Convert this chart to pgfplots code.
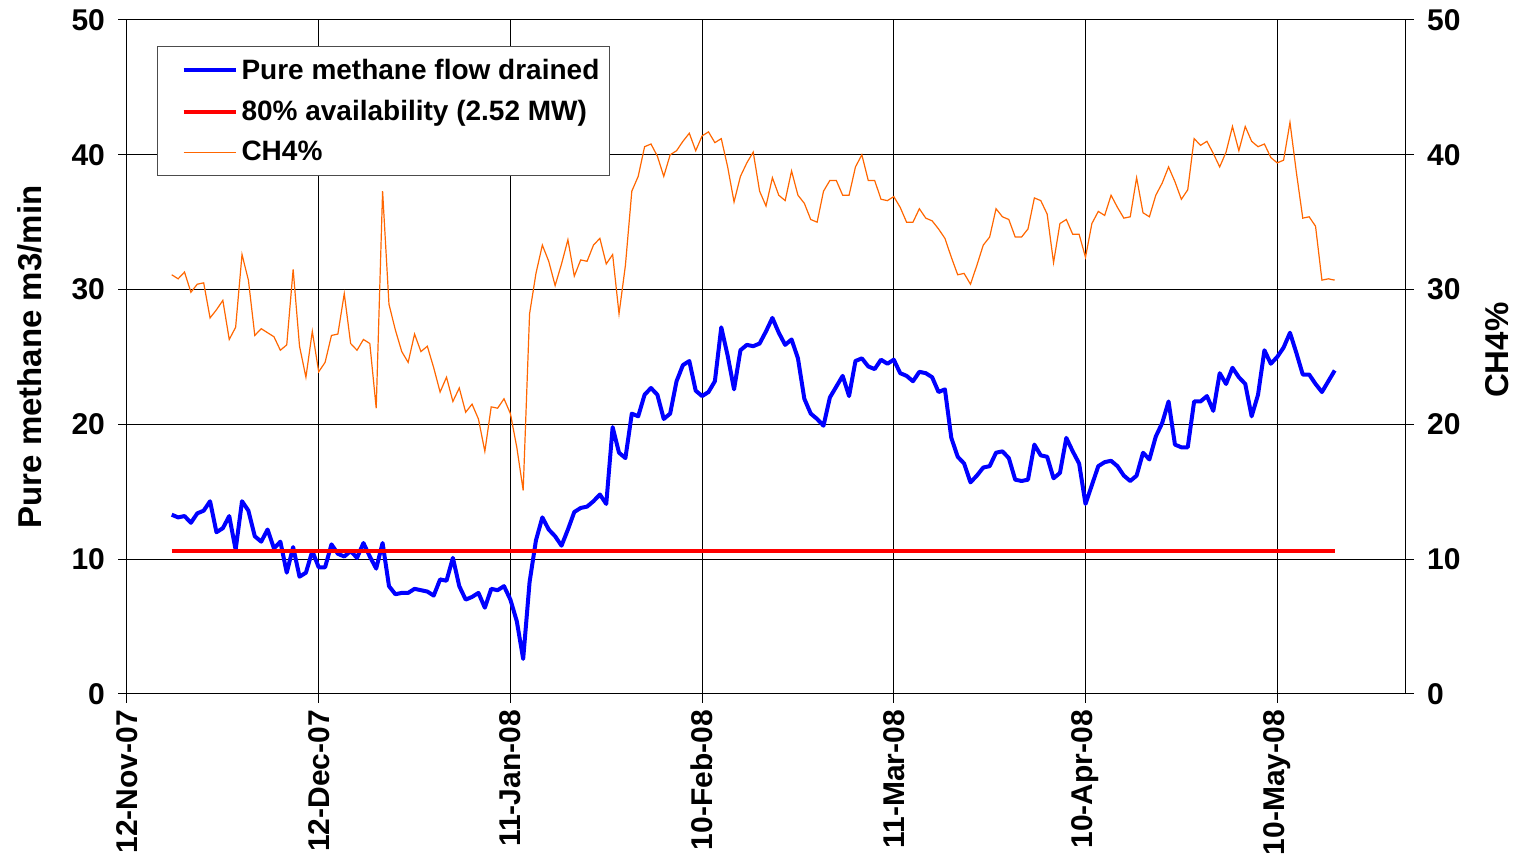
\documentclass[border=0pt]{standalone}
\usepackage{fontspec}
\setmainfont{Liberation Sans}
\usepackage{pgfplots}
\usepackage{pgfplotstable}
\pgfplotsset{compat=1.18}
\definecolor{ch4col}{RGB}{255,102,0}
\definecolor{flowcol}{RGB}{0,0,255}
\definecolor{availcol}{RGB}{255,0,0}

\pgfplotstableread{
day flow ch4
7 13.3 31.1
8 13.1 30.8
9 13.2 31.3
10 12.7 29.8
11 13.4 30.4
12 13.6 30.5
13 14.3 27.9
14 12.0 28.5
15 12.3 29.2
16 13.2 26.3
17 10.7 27.2
18 14.3 32.6
19 13.6 30.7
20 11.7 26.6
21 11.3 27.1
22 12.2 26.8
23 10.8 26.5
24 11.3 25.5
25 9.0 25.9
26 10.9 31.5
27 8.7 25.8
28 9.0 23.5
29 10.6 26.9
30 9.4 23.9
31 9.4 24.6
32 11.1 26.6
33 10.4 26.7
34 10.2 29.7
35 10.6 26.0
36 10.1 25.5
37 11.2 26.3
38 10.2 26.0
39 9.3 21.2
40 11.2 37.3
41 8.0 28.9
42 7.4 27.0
43 7.5 25.4
44 7.5 24.6
45 7.8 26.7
46 7.7 25.4
47 7.6 25.8
48 7.3 24.2
49 8.5 22.4
50 8.4 23.5
51 10.1 21.7
52 8.0 22.7
53 7.0 20.9
54 7.2 21.5
55 7.5 20.4
56 6.4 18.0
57 7.8 21.3
58 7.7 21.2
59 8.0 21.9
60 7.0 20.8
61 5.4 18.3
62 2.6 15.1
63 8.3 28.2
64 11.4 31.2
65 13.1 33.3
66 12.2 32.1
67 11.7 30.3
68 11.0 31.9
69 12.2 33.7
70 13.5 31.0
71 13.8 32.2
72 13.9 32.1
73 14.3 33.3
74 14.8 33.8
75 14.1 31.9
76 19.8 32.6
77 17.9 28.2
78 17.5 31.8
79 20.8 37.3
80 20.6 38.4
81 22.2 40.6
82 22.7 40.8
83 22.2 39.9
84 20.4 38.4
85 20.8 40.0
86 23.2 40.3
87 24.4 41.0
88 24.7 41.6
89 22.5 40.3
90 22.1 41.4
91 22.4 41.7
92 23.2 40.9
93 27.2 41.2
94 25.1 39.1
95 22.6 36.5
96 25.5 38.4
97 25.9 39.4
98 25.8 40.2
99 26.0 37.3
100 26.9 36.2
101 27.9 38.3
102 26.8 37.0
103 25.9 36.6
104 26.3 38.8
105 24.9 37.0
106 21.9 36.4
107 20.8 35.2
108 20.4 35.0
109 19.9 37.3
110 22.0 38.1
111 22.8 38.1
112 23.6 37.0
113 22.1 37.0
114 24.7 39.1
115 24.9 40.0
116 24.3 38.1
117 24.1 38.1
118 24.8 36.7
119 24.5 36.6
120 24.8 36.9
121 23.8 36.1
122 23.6 35.0
123 23.2 35.0
124 23.9 36.0
125 23.8 35.3
126 23.5 35.1
127 22.4 34.5
128 22.6 33.8
129 19.0 32.4
130 17.6 31.1
131 17.1 31.2
132 15.7 30.4
133 16.2 31.8
134 16.8 33.3
135 16.9 33.9
136 17.9 36.0
137 18.0 35.4
138 17.5 35.2
139 15.9 33.9
140 15.8 33.9
141 15.9 34.5
142 18.5 36.8
143 17.7 36.6
144 17.6 35.6
145 16.0 32.0
146 16.4 34.9
147 19.0 35.2
148 18.0 34.1
149 17.1 34.1
150 14.1 32.4
151 15.5 34.9
152 16.9 35.8
153 17.2 35.5
154 17.3 37.0
155 16.9 36.1
156 16.2 35.3
157 15.8 35.4
158 16.2 38.3
159 17.9 35.7
160 17.4 35.4
161 19.1 37.0
162 20.1 37.9
163 21.7 39.1
164 18.5 38.0
165 18.3 36.7
166 18.3 37.4
167 21.7 41.2
168 21.7 40.7
169 22.1 41.0
170 21.0 40.1
171 23.8 39.1
172 23.0 40.2
173 24.2 42.1
174 23.5 40.3
175 23.0 42.1
176 20.6 41.0
177 22.2 40.6
178 25.5 40.8
179 24.5 39.8
180 25.0 39.4
181 25.7 39.6
182 26.8 42.4
183 25.3 38.7
184 23.7 35.3
185 23.7 35.4
186 23.0 34.7
187 22.4 30.7
188 23.2 30.8
189 24.0 30.7
}\data

\newcommand{\tickfont}{\fontsize{15}{18}\selectfont\bfseries}
\newcommand{\labfont}{\fontsize{16.5}{19}\selectfont\bfseries}

\begin{document}
\begin{tikzpicture}
\begin{axis}[
  at={(0pt,0pt)}, anchor=south west,
  scale only axis, width=639pt, height=337pt,
  xmin=0, xmax=200, ymin=0, ymax=50,
  xtick={0,30,...,180},
  xticklabels={12-Nov-07,12-Dec-07,11-Jan-08,10-Feb-08,11-Mar-08,10-Apr-08,10-May-08},
  ytick={0,10,...,50},
  xtick pos=left, ytick pos=left,
  grid=major,
  major grid style={black, line width=0.5pt},
  axis line style={black, line width=0.5pt},
  tick align=outside,
  major tick length=4.5pt,
  tick style={black, line width=0.5pt},
  /pgf/number format/assume math mode=true,
  ticklabel style={font=\tickfont},
  xticklabel style={rotate=90, anchor=east},
  yticklabel style={xshift=-3pt},
  ylabel={Pure methane m3/min},
  ylabel style={font=\labfont, at={(axis description cs:-0.076,0.5)}, anchor=center},
  legend style={at={(axis description cs:0.0235,0.961)}, anchor=north west,
    draw=black!70, line width=0.5pt, fill=white,
    font=\fontsize{14}{16}\selectfont\bfseries,
    inner xsep=3pt, inner ysep=4pt, row sep=5pt,
    cells={anchor=west}},
  legend image code/.code={\path (0pt,0pt); \draw[#1] (9pt,0pt) -- (35pt,0pt);},
]
\addplot[flowcol, line width=2pt, line join=round] table[x=day, y=flow] {\data};
\addlegendentry{Pure methane flow drained}
\addplot[availcol, line width=2pt] coordinates {(7,10.6) (189,10.6)};
\addlegendentry{80\% availability (2.52 MW)}
\addplot[ch4col, line width=0.6pt] table[x=day, y=ch4] {\data};
\addlegendentry{CH4\%}
\end{axis}
\begin{axis}[
  at={(0pt,0pt)}, anchor=south west,
  scale only axis, width=639pt, height=337pt,
  xmin=0, xmax=200, ymin=0, ymax=50,
  axis x line=none, axis y line*=right,
  ytick={0,10,...,50},
  axis line style={black, line width=0.5pt},
  tick align=outside,
  major tick length=4.5pt,
  tick style={black, line width=0.5pt},
  /pgf/number format/assume math mode=true,
  ticklabel style={font=\tickfont},
  yticklabel style={xshift=3pt},
  ylabel={CH4\%},
  ylabel style={font=\labfont, at={(axis description cs:1.072,0.51)}, anchor=center},
]
\addplot[draw=none, forget plot] coordinates {(0,0)};
\end{axis}
\pgfresetboundingbox
\path[use as bounding box] (-63.5pt,-80pt) rectangle (695pt,347pt);
\end{tikzpicture}
\end{document}
